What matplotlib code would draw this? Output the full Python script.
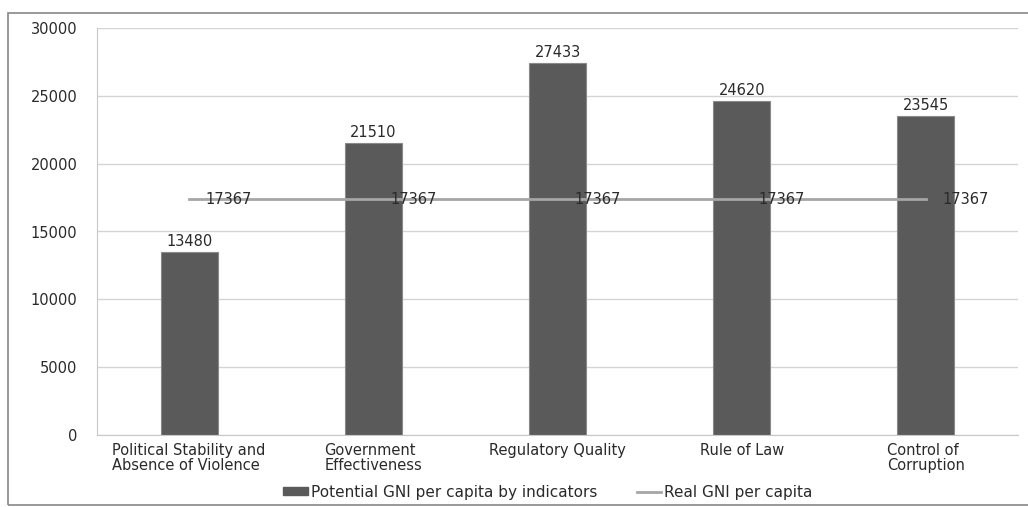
import matplotlib.pyplot as plt
from matplotlib.patches import Rectangle
from matplotlib.lines import Line2D

categories = ['Political Stability and\nAbsence of Violence', 'Government\nEffectiveness',
              'Regulatory Quality', 'Rule of Law', 'Control of\nCorruption']
potential_gni = [13480, 21510, 27433, 24620, 23545]
real_gni = [17367, 17367, 17367, 17367, 17367]
y_ticks = [0, 5000, 10000, 15000, 20000, 25000, 30000]

plt.rcParams['font.family'] = ['DejaVu Sans']
text_color = '#2a2a2a'

fig = plt.figure(figsize=(10.28, 5.07), dpi=100)
ax = fig.add_axes([97 / 1028, 1 - 435 / 507, (1018 - 97) / 1028, (435 - 28) / 507])

x = list(range(len(categories)))
bars = ax.bar(x, potential_gni, width=0.31, color='#5a5a5a', edgecolor='#8a8a8a',
              linewidth=0.8, zorder=2)
ax.plot(x, real_gni, color='#a6a6a6', linewidth=2, zorder=3)

# value labels above bars
for xi, v in zip(x, potential_gni):
    ax.annotate(str(v), (xi, v), xytext=(0, 2), textcoords='offset points',
                ha='center', va='bottom', fontsize=10.5, color=text_color)
# value labels beside the line points
for xi, v in zip(x, real_gni):
    ax.annotate(str(v), (xi, v), xytext=(12, 0), textcoords='offset points',
                ha='left', va='center', fontsize=10.5, color=text_color, zorder=4)

ax.set_xlim(-0.5, len(categories) - 0.5)
ax.set_ylim(0, 30000)
ax.set_yticks(y_ticks)
ax.set_xticks(x)
ax.set_xticklabels(categories, fontsize=10.5, color=text_color, linespacing=0.95,
                   multialignment='left')
ax.tick_params(axis='y', length=0, pad=14, labelsize=10.5, labelcolor=text_color)
ax.tick_params(axis='x', length=0, pad=6)
ax.yaxis.grid(True, color='#d4d4d4', linewidth=1, zorder=0)
ax.set_axisbelow(True)
for side in ['top', 'right']:
    ax.spines[side].set_visible(False)
ax.spines['left'].set_color('#c8c8c8')
ax.spines['bottom'].set_color('#c8c8c8')

handles = [Rectangle((0, 0), 1, 1, color='#5a5a5a'),
           Line2D([0], [0], color='#a6a6a6', linewidth=2)]
leg = fig.legend(handles, ['Potential GNI per capita by indicators', 'Real GNI per capita'],
                 loc='center', bbox_to_anchor=(548 / 1028, 1 - 492 / 507), ncol=2,
                 frameon=False, fontsize=11, handlelength=1.6, handleheight=0.5,
                 handletextpad=0.2, columnspacing=2.6)
for t in leg.get_texts():
    t.set_color(text_color)

# chart border
fig.patches.append(Rectangle((8 / 1028, 2 / 507), 1.2, 1 - 15 / 507, transform=fig.transFigure,
                             fill=False, edgecolor='#888888', linewidth=1.2))

plt.savefig('out.png', dpi=100)
